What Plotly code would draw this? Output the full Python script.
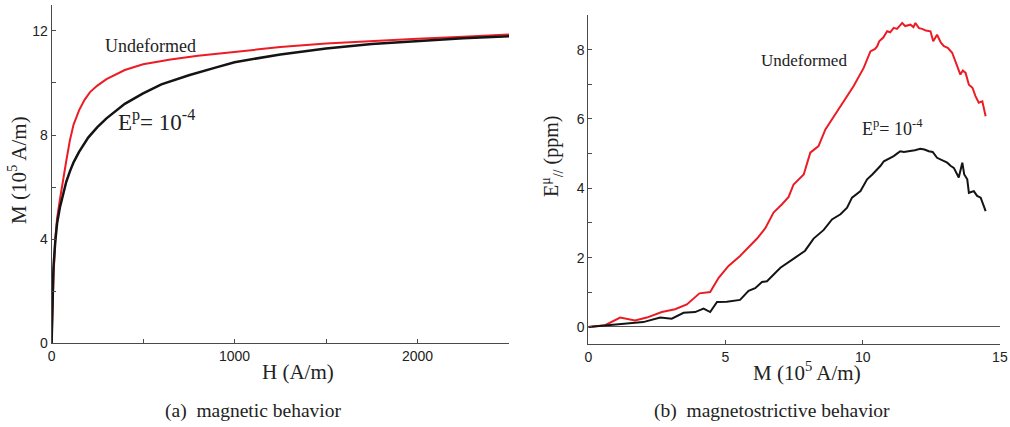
import plotly.graph_objects as go

# ---- (a) magnetic behavior: M (1e5 A/m) vs H (A/m)
H_undef = [0, 5, 10, 20, 30, 45, 60, 80, 100, 120, 150, 180, 210, 250, 300, 400, 500, 650, 800, 1000, 1250, 1500, 1750, 2000, 2250, 2500]
M_undef = [0, 1.3, 2.5, 4.0, 4.8, 5.5, 6.2, 7.0, 7.8, 8.4, 8.95, 9.35, 9.65, 9.9, 10.15, 10.5, 10.72, 10.9, 11.05, 11.2, 11.38, 11.52, 11.62, 11.7, 11.78, 11.87]
H_def = [0, 5, 10, 20, 30, 45, 60, 80, 100, 120, 150, 200, 250, 300, 400, 500, 600, 750, 900, 1000, 1250, 1500, 1750, 2000, 2250, 2500]
M_def = [0, 1.8, 2.9, 3.9, 4.6, 5.2, 5.6, 6.2, 6.6, 6.95, 7.35, 7.9, 8.3, 8.64, 9.2, 9.6, 9.95, 10.3, 10.6, 10.8, 11.1, 11.33, 11.5, 11.62, 11.72, 11.8]

# ---- (b) magnetostrictive behavior: E (ppm) vs M (1e5 A/m)
Mb_undef = [0, 0.61, 1.16, 1.70, 2.13, 2.68, 3.16, 3.59, 4.05, 4.44, 4.75, 5.11, 5.53, 6.15, 6.45, 6.75, 7.06, 7.3, 7.48, 7.85, 8.09, 8.39, 8.64, 9.19, 9.67, 10.04, 10.28, 10.45, 10.53, 10.6, 10.75, 10.89, 11.0, 11.13, 11.25, 11.44, 11.55, 11.74, 11.85, 11.92, 12.05, 12.17, 12.3, 12.47, 12.57, 12.71, 12.85, 12.96, 13.1, 13.26, 13.4, 13.56, 13.65, 13.75, 13.87, 14.0, 14.11, 14.23, 14.36, 14.48]
Eb_undef = [0, 0.05, 0.27, 0.19, 0.27, 0.43, 0.51, 0.65, 0.97, 1.01, 1.42, 1.76, 2.05, 2.55, 2.85, 3.30, 3.54, 3.75, 4.11, 4.40, 5.03, 5.22, 5.70, 6.37, 6.95, 7.48, 7.95, 8.02, 8.10, 8.24, 8.35, 8.53, 8.5, 8.63, 8.6, 8.77, 8.68, 8.72, 8.65, 8.77, 8.62, 8.6, 8.55, 8.53, 8.24, 8.43, 8.2, 8.10, 8.05, 7.91, 7.6, 7.28, 7.4, 7.33, 6.99, 6.9, 6.66, 6.47, 6.51, 6.08]
Mb_def = [0, 0.91, 2.0, 2.62, 3.04, 3.47, 3.89, 4.20, 4.44, 4.69, 5.05, 5.53, 5.84, 6.08, 6.33, 6.51, 7.0, 7.54, 7.9, 8.21, 8.58, 8.88, 9.19, 9.43, 9.61, 9.92, 10.16, 10.35, 10.53, 10.65, 10.77, 10.95, 11.13, 11.25, 11.37, 11.5, 11.74, 11.9, 12.1, 12.25, 12.41, 12.55, 12.71, 12.9, 13.08, 13.2, 13.32, 13.5, 13.63, 13.7, 13.81, 13.87, 14.05, 14.17, 14.3, 14.48]
Eb_def = [0, 0.06, 0.14, 0.27, 0.24, 0.41, 0.43, 0.53, 0.43, 0.72, 0.73, 0.78, 1.04, 1.12, 1.30, 1.32, 1.71, 2.0, 2.2, 2.55, 2.8, 3.1, 3.25, 3.44, 3.73, 3.92, 4.26, 4.4, 4.54, 4.65, 4.78, 4.85, 4.93, 5.0, 5.07, 5.05, 5.07, 5.1, 5.14, 5.12, 5.07, 5.05, 4.88, 4.8, 4.74, 4.65, 4.59, 4.31, 4.74, 4.4, 4.26, 3.87, 3.92, 3.78, 3.73, 3.34]

RED = "rgb(236,28,36)"
BLACK = "rgb(20,20,20)"
SERIF = "Liberation Serif"
SANS = "Liberation Sans"
AXC = "#4a4a4a"

fig = go.Figure()
fig.add_trace(go.Scatter(x=H_undef, y=M_undef, mode="lines", line=dict(color=RED, width=2), xaxis="x", yaxis="y", showlegend=False))
fig.add_trace(go.Scatter(x=H_def, y=M_def, mode="lines", line=dict(color=BLACK, width=2.5), xaxis="x", yaxis="y", showlegend=False))
fig.add_trace(go.Scatter(x=Mb_undef, y=Eb_undef, mode="lines", line=dict(color=RED, width=2), xaxis="x2", yaxis="y2", showlegend=False))
fig.add_trace(go.Scatter(x=Mb_def, y=Eb_def, mode="lines", line=dict(color=BLACK, width=2), xaxis="x2", yaxis="y2", showlegend=False))

def ax(**kw):
    base = dict(showline=True, linecolor=AXC, linewidth=1, ticks="inside", ticklen=4, tickcolor=AXC,
                showgrid=False, zeroline=False, automargin=False,
                tickfont=dict(family=SANS, size=14, color="#222"))
    base.update(kw)
    return base

fig.update_layout(
    width=1010, height=427, margin=dict(l=0, r=0, t=0, b=0),
    paper_bgcolor="white", plot_bgcolor="white",
    xaxis=ax(domain=[0.0511, 0.504], range=[0, 2500], dtick=1000, tick0=0,
             minor=dict(dtick=500, ticks="inside", ticklen=4, tickcolor=AXC), anchor="y"),
    yaxis=ax(domain=[0.1967, 0.9883], range=[0, 13], dtick=4, tick0=0,
             minor=dict(dtick=2, ticks="inside", ticklen=4, tickcolor=AXC), anchor="x"),
    xaxis2=ax(domain=[0.5825, 0.990], range=[0, 15], dtick=5, tick0=0, anchor="y2"),
    yaxis2=ax(domain=[0.1937, 0.9649], range=[-0.5, 9], dtick=2, tick0=0,
              minor=dict(dtick=1, ticks="inside", ticklen=4, tickcolor=AXC),
              zeroline=True, zerolinecolor="#555", zerolinewidth=1, anchor="x2"),
)

anns = [
    dict(text="Undeformed", x=150, y=46, size=18),
    dict(text="E<sup>p</sup>= 10<sup>-4</sup>", x=156, y=121, size=23),
    dict(text="Undeformed", x=804, y=61, size=17),
    dict(text="E<sup>p</sup>= 10<sup>-4</sup>", x=892, y=127, size=18),
    dict(text="H (A/m)", x=298, y=372, size=21),
    dict(text="M (10<sup>5</sup> A/m)", x=807, y=371, size=21),
    dict(text="M (10<sup>5</sup> A/m)", x=17, y=170, size=21, angle=-90),
    dict(text="E<sup>μ</sup><sub>//</sub> (ppm)", x=552, y=157, size=20, angle=-90),
    dict(text="(a)  magnetic behavior", x=253, y=411, size=19.5),
    dict(text="(b)  magnetostrictive behavior", x=772, y=411, size=19.5),
]
for a in anns:
    fig.add_annotation(text=a["text"], x=a["x"] / 1010, y=1 - a["y"] / 427, xref="paper", yref="paper",
                       showarrow=False, xanchor="center", yanchor="middle", textangle=a.get("angle", 0),
                       font=dict(family=SERIF, size=a["size"], color="#222"))

fig.write_html("out.html", config={"displayModeBar": False},
               post_script="document.body.style.margin='0';document.body.style.padding='0';")
